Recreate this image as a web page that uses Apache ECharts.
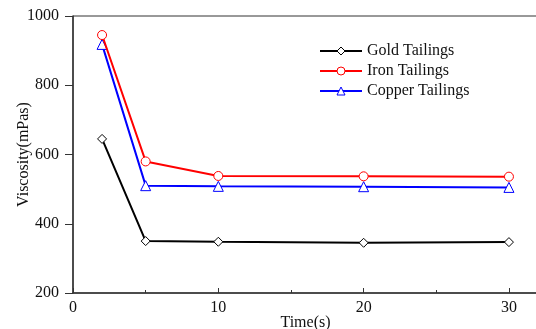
<!DOCTYPE html>
<html>
<head>
<meta charset="utf-8">
<script src="https://cdn.jsdelivr.net/npm/echarts@6/dist/echarts.min.js"></script>
<style>
  html, body { margin: 0; padding: 0; background: #fff; }
  #chart { width: 536px; height: 329px; }
</style>
</head>
<body>
<div id="chart"></div>
<script>
  // time points (s)
  var times = [2, 5, 10, 20, 30]
  var seriesNames = ['Gold Tailings', 'Iron Tailings', 'Copper Tailings']
  var gold = [645, 350, 348, 345, 347]
  var iron = [945, 580, 538, 537, 536]
  var copper = [918, 510, 508, 507, 505]
  var xTicks = [0, 10, 20, 30]
  var yTicks = [200, 400, 600, 800, 1000]

  var font = 'Liberation Serif'
  var colors = ['#000000', '#ff0000', '#0000ff']
  var symbols = ['diamond', 'circle', 'triangle']
  var values = [gold, iron, copper]

  function pairs (arr) {
    return times.map(function (t, i) { return [t, arr[i]] })
  }

  function getSeries () {
    var series = []
    for (var i = 0; i < seriesNames.length; i++) {
      series.push({
        name: seriesNames[i],
        type: 'line',
        data: pairs(values[i]),
        symbol: symbols[i],
        symbolSize: i === 2 ? 10 : 9,
        lineStyle: { color: colors[i], width: 2 },
        itemStyle: { color: '#fff', borderColor: colors[i], borderWidth: 1 },
        emphasis: { disabled: true },
        z: 3 - i,
      })
    }
    return series
  }

  var chart = echarts.init(document.getElementById('chart'))
  var option = {
    animation: false,
    backgroundColor: '#fff',
    color: colors,
    grid: {
      left: 73,
      right: -2,
      top: 16,
      bottom: 36,
      containLabel: false,
      outerBoundsMode: 'none',
      show: true,
      borderColor: '#333',
      borderWidth: 1,
    },
    legend: {
      orient: 'vertical',
      left: 314,
      top: 38,
      itemGap: 4,
      itemWidth: 42,
      itemHeight: 10,
      textStyle: { fontFamily: font, fontSize: 16, color: '#111' },
      data: seriesNames.map(function (n, i) {
        return { name: n, itemStyle: { color: '#fff', borderColor: colors[i], borderWidth: 1 } }
      }),
    },
    xAxis: {
      type: 'value',
      min: xTicks[0],
      max: 32,
      interval: 10,
      name: 'Time(s)',
      nameLocation: 'middle',
      nameGap: 22,
      nameMoveOverlap: false,
      nameTextStyle: { fontFamily: font, fontSize: 16, color: '#111' },
      axisLine: { lineStyle: { color: '#333', width: 1.5 } },
      axisTick: { inside: true, length: 5, lineStyle: { color: '#333' } },
      minorTick: { show: true, splitNumber: 2, length: 3, lineStyle: { color: '#333' } },
      splitLine: { show: false },
      axisLabel: {
        showMaxLabel: false,
        margin: 7,
        fontFamily: font,
        fontSize: 16,
        color: '#111',
      },
    },
    yAxis: {
      type: 'value',
      min: yTicks[0],
      max: yTicks[yTicks.length - 1],
      interval: 200,
      name: 'Viscosity(mPas)',
      nameLocation: 'middle',
      nameRotate: 90,
      nameGap: 41,
      nameMoveOverlap: false,
      nameTextStyle: { fontFamily: font, fontSize: 16, color: '#111' },
      axisLine: { show: true, lineStyle: { color: '#333', width: 1.5 } },
      axisTick: { show: true, inside: false, length: 8, lineStyle: { color: '#333' } },
      splitLine: { show: false },
      axisLabel: {
        margin: 14,
        formatter: function (v) { return String(v) },
        fontFamily: font,
        fontSize: 16,
        color: '#111',
      },
    },
    series: getSeries(),
  }
  chart.setOption(option)
</script>
</body>
</html>
